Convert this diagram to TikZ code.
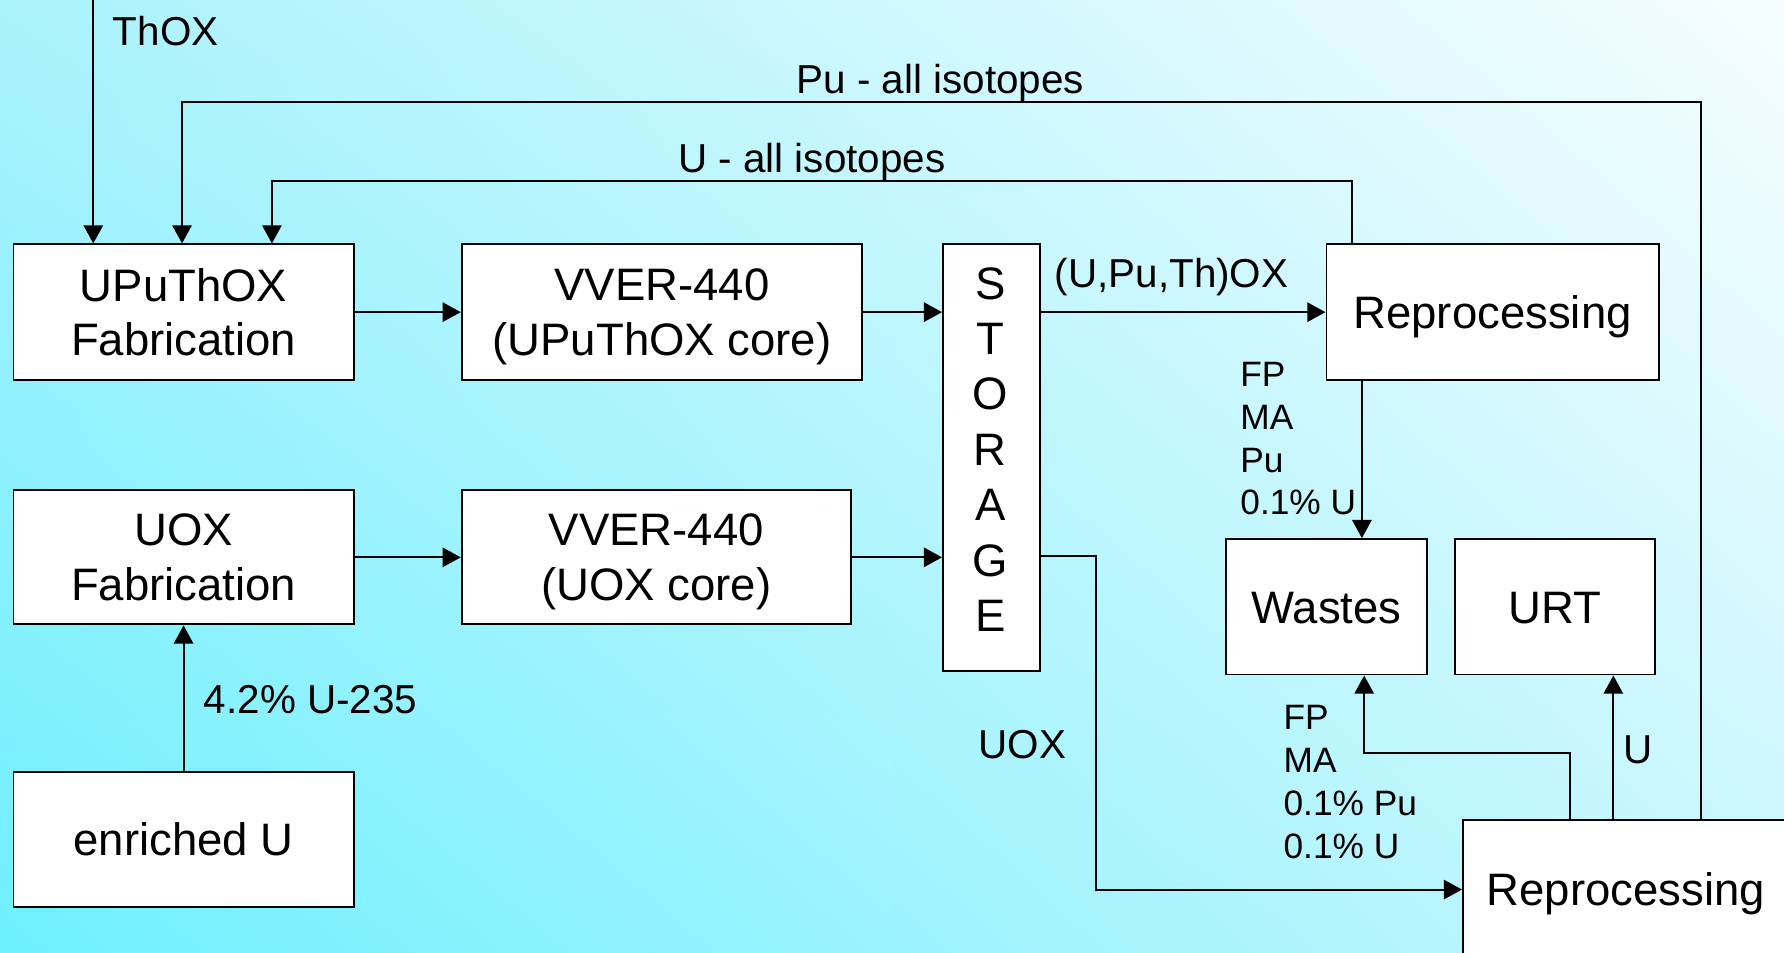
\documentclass[tikz,border=0pt]{standalone}
\usepackage{fontspec}
\setmainfont{Liberation Sans}
\usetikzlibrary{arrows.meta,shadings}

\definecolor{bgUL}{RGB}{170,242,252}
\definecolor{bgUR}{RGB}{245,253,255}
\definecolor{bgLL}{RGB}{110,240,254}
\definecolor{bgLR}{RGB}{199,246,253}

\newcommand\boxfont{\fontsize{40}{48}\selectfont}
\newcommand\lblfont{\fontsize{35.5}{42}\selectfont}
\newcommand\notefont{\fontsize{31}{37.7}\selectfont}

\tikzset{
  box/.style={draw=black, line width=1.7pt, fill=white, inner sep=0pt,
    align=center, font=\boxfont, anchor=north west},
  oneline/.style={text height=28.6pt, text depth=0pt},
  flow/.style={line width=1.7pt, -{Triangle[length=16pt,width=17pt]}},
  lbl/.style={font=\lblfont, inner sep=0pt, anchor=base west},
  note/.style={font=\notefont, inner sep=0pt, align=left, anchor=north west},
}

\begin{document}
\begin{tikzpicture}[x=1pt, y=-1pt]
  % page and background
  \useasboundingbox (0,0) rectangle (1568,837);
  \shade[upper left=bgUL, upper right=bgUR, lower left=bgLL, lower right=bgLR]
    (0,0) rectangle (1568,837);
  \clip (0,0) rectangle (1568,837);

  % process boxes
  \node[box, minimum width=299pt, minimum height=119pt] (upfab) at (11,214) {UPuThOX\\Fabrication};
  \node[box, minimum width=352pt, minimum height=119pt] (vup) at (405,214) {VVER-440\\\smash{(UPuThOX core)}};
  \node[box, minimum width=85pt, minimum height=375pt] (storage) at (828,214) {};
  \node[font=\fontsize{40}{48.7}\selectfont, align=center, inner sep=0pt] (storagelbl)
    at (870.5,395) {S\\T\\O\\R\\A\\G\\E};
  \node[box, oneline, minimum width=292pt, minimum height=119pt] (rpt) at (1165,214) {Reprocessing};
  \node[box, minimum width=299pt, minimum height=118pt] (uofab) at (11,430) {UOX\\Fabrication};
  \node[box, minimum width=342pt, minimum height=118pt] (vlo) at (405,430) {VVER-440\\\smash{(UOX core)}};
  \node[box, oneline, minimum width=299pt, minimum height=118pt] (enr) at (11,678) {enriched U};
  \node[box, oneline, minimum width=176pt, minimum height=119pt] (wastes) at (1077,473) {Wastes};
  \node[box, oneline, minimum width=176pt, minimum height=119pt] (urt) at (1278,473) {URT};
  \node[box, oneline, minimum width=286pt, minimum height=122pt] (rpb) at (1285,720) {Reprocessing};

  % routing points
  \coordinate (thsrc) at (82,0);
  \coordinate (puturn) at (1495,90);
  \coordinate (puin) at (160,90);
  \coordinate (uturn) at (1188,159);
  \coordinate (uin) at (239,159);
  \coordinate (uoxturn) at (963,489);
  \coordinate (wdrop) at (1197,0);
  \coordinate (wturn) at (1380,662);
  \coordinate (wup) at (1199,662);
  \coordinate (urtx) at (1418,0);

  % main flow
  \draw[flow] (thsrc) -- (thsrc |- upfab.north);
  \draw[flow] (puturn |- rpb.north) -- (puturn) -- (puin) -- (puin |- upfab.north);
  \draw[flow] (uturn |- rpt.north) -- (uturn) -- (uin) -- (uin |- upfab.north);
  \draw[flow] (upfab.east) -- (vup.west);
  \draw[flow] (vup.east) -- (vup.east -| storage.west);
  \draw[flow] (uofab.east) -- (vlo.west);
  \draw[flow] (vlo.east) -- (vlo.east -| storage.west);
  \draw[flow] (enr.north) -- (uofab.south);
  \draw[flow] (rpt.west -| storage.east) -- (rpt.west);
  \draw[flow] (uoxturn -| storage.east) -- (uoxturn) -- (uoxturn |- rpb.west) -- (rpb.west);
  \draw[flow] (wdrop |- rpt.south) -- (wdrop |- wastes.north);
  \draw[flow] (wturn |- rpb.north) -- (wturn) -- (wup) -- (wup |- wastes.south);
  \draw[flow] (urtx |- rpb.north) -- (urtx |- urt.south);

  % stream labels
  \node[lbl] (lthox) at (99,40) {ThOX};
  \node[lbl] (lpu) at (700,82) {Pu - all isotopes};
  \node[lbl] (lu) at (596,152) {U - all isotopes};
  \node[lbl] (lupth) at (927,253) {(U,Pu,Th)OX};
  \node[lbl] (luox) at (860,667) {UOX};
  \node[lbl] (lenr) at (179,627) {4.2\% U-235};
  \node[lbl] (lurt) at (1427,671) {U};
  \node[note] (lwt) at (1090,318) {FP\\MA\\Pu\\0.1\% U};
  \node[note] (lwb) at (1128,620) {FP\\MA\\0.1\% Pu\\0.1\% U};
\end{tikzpicture}
\end{document}
